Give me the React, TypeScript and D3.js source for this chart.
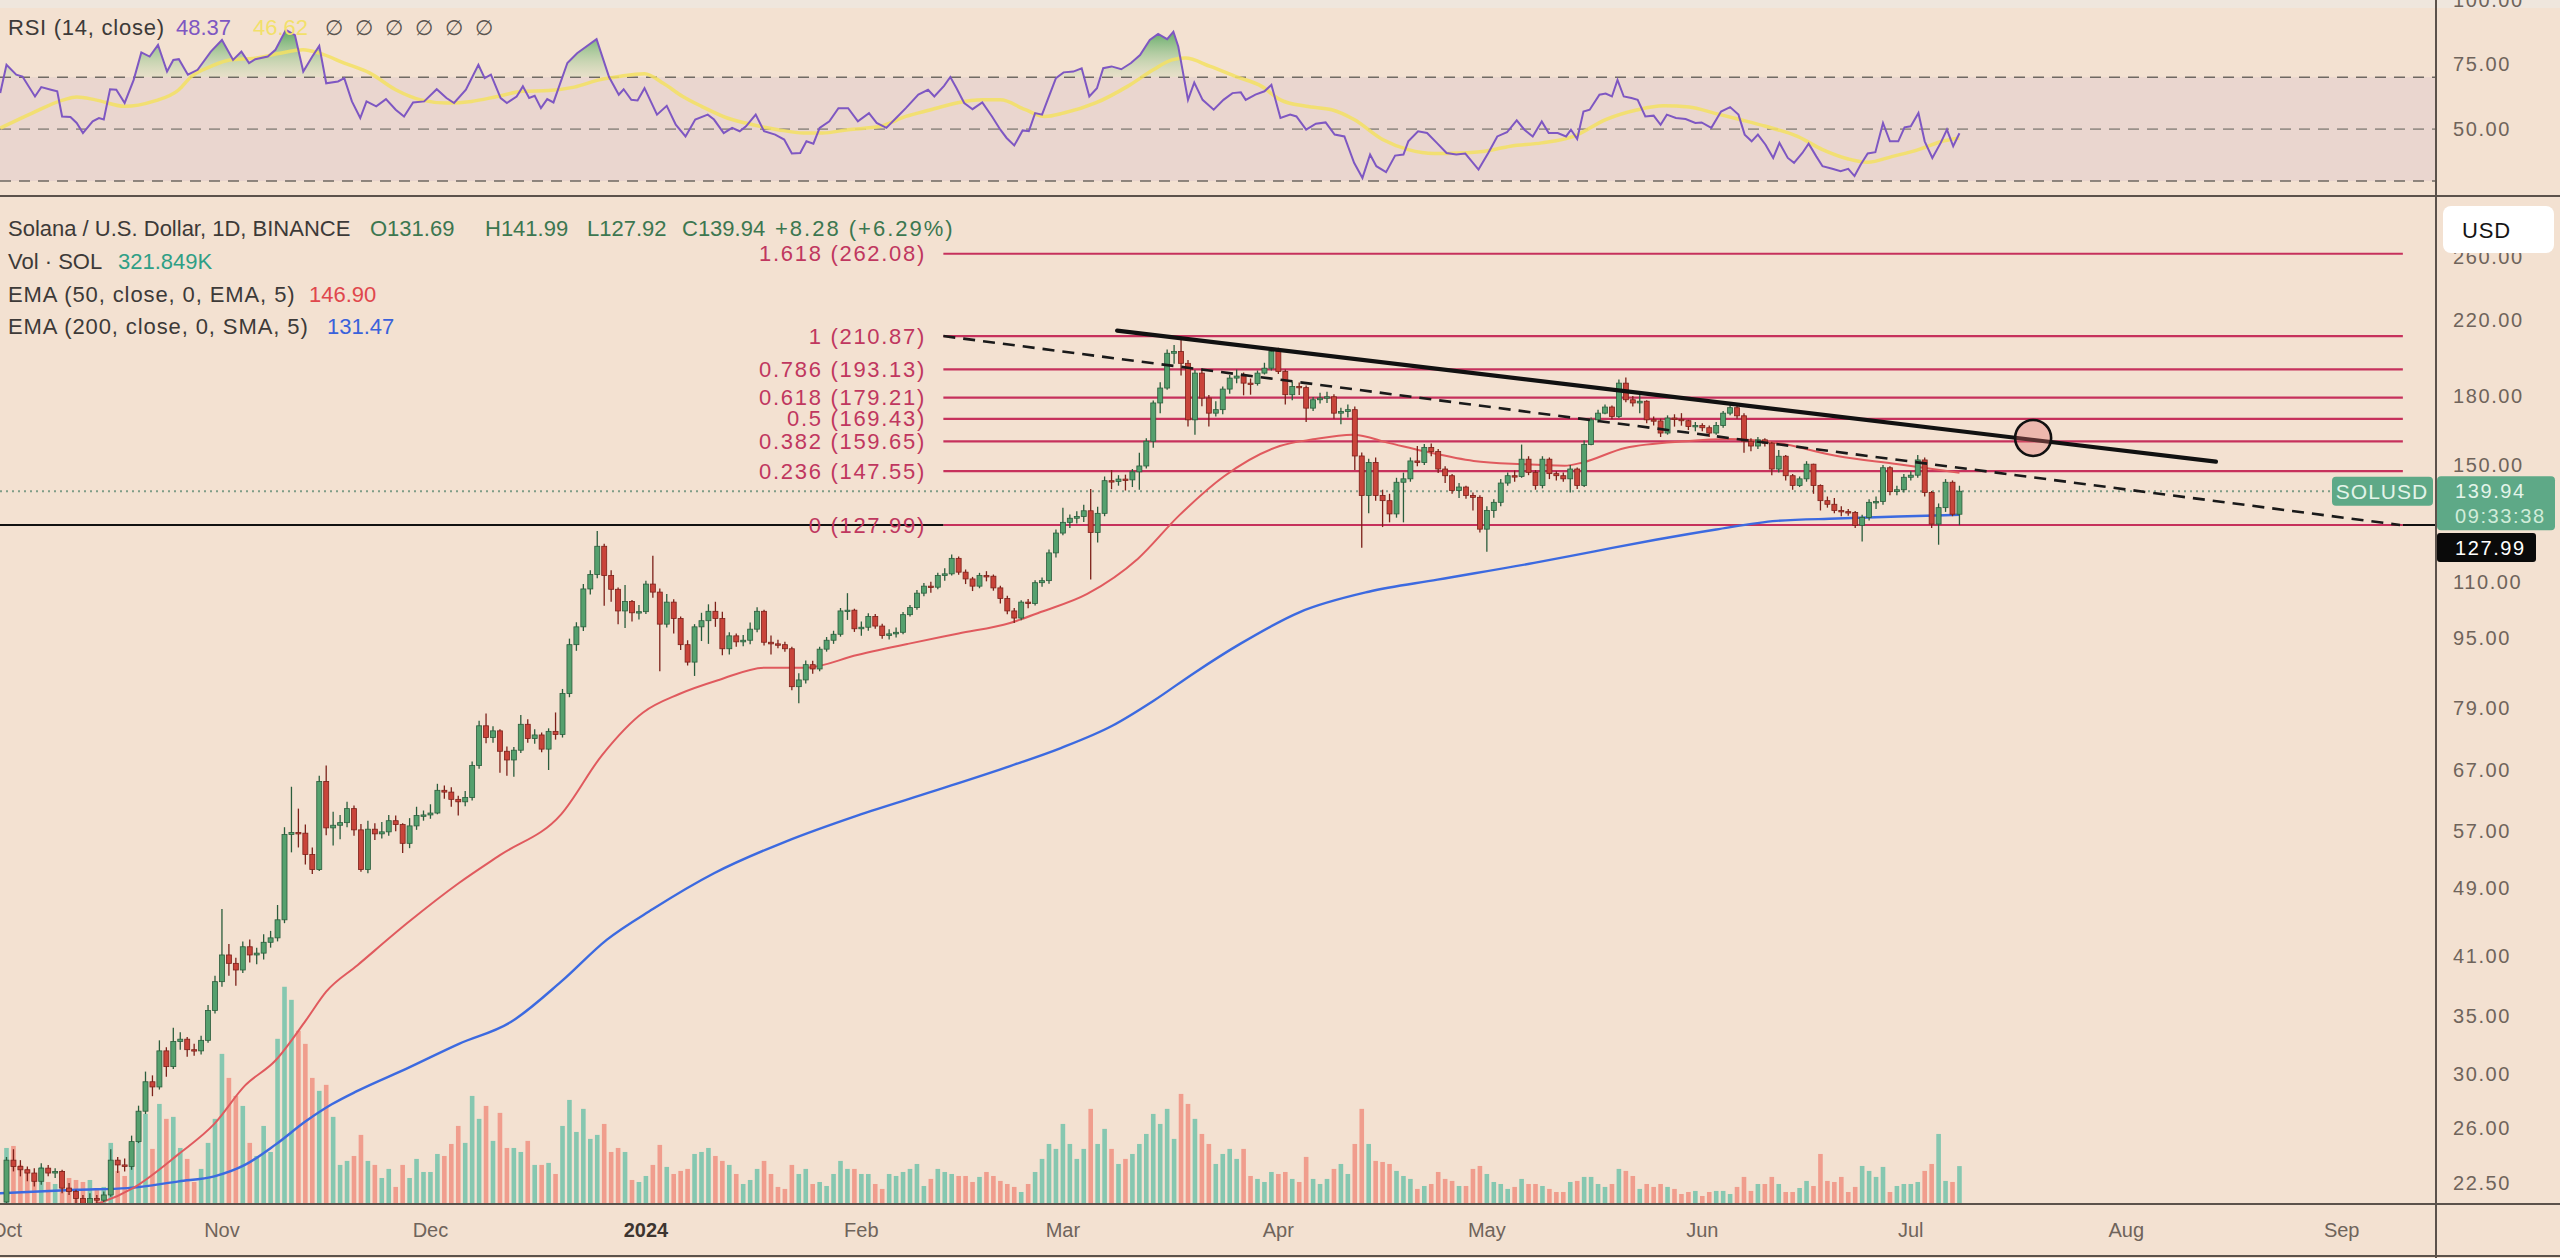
import * as d3 from 'd3';
import React from 'react';

const DAY = 86400000;
const START = Date.UTC(2023, 9, 1);
const AXIS_END = Date.UTC(2024, 8, 1);

const W = 2560;
const H = 1258;
const AXIS_X = 2436;
const RSI_BOTTOM = 196;
const PRICE_BOTTOM = 1204;
const TIME_BOTTOM = 1256;
const FONT = "'Liberation Sans', Arial, sans-serif";

// daily SOL/USD candles, 2023-10-01 .. 2024-07-08 (one line per month)
const closes = [
  23.9, 23.5, 23.3, 23.1, 22.6, 23.4, 23.1, 23.2, 22.2, 22.0, 21.6, 21.3, 21.6, 21.5, 21.8, 23.9, 23.6, 23.5, 25.1, 27.2, 29.4, 29.0, 31.9, 30.6, 32.7, 32.9, 32.0, 31.9, 32.8, 35.5, 38.3,
  41.1, 40.2, 39.5, 42.0, 41.1, 41.3, 42.5, 43.0, 45.1, 56.5, 56.8, 56.7, 53.6, 51.5, 65.0, 57.5, 57.9, 58.3, 60.5, 57.2, 51.5, 57.3, 56.6, 56.9, 58.6, 58.0, 55.2, 57.8, 59.4, 59.5,
  59.8, 63.5, 63.2, 62.0, 61.6, 62.3, 67.8, 75.3, 73.0, 74.3, 70.4, 68.8, 70.6, 75.6, 72.8, 73.5, 70.8, 74.2, 73.6, 82.0, 93.3, 97.8, 108.1, 112.3, 121.0, 112.0, 108.0, 102.0, 104.6, 101.5, 101.8,
  109.5, 107.2, 98.5, 104.4, 100.0, 93.3, 89.1, 97.8, 99.4, 101.9, 100.0, 92.3, 95.5, 94.0, 94.4, 97.2, 101.9, 93.9, 93.5, 93.3, 92.3, 83.5, 85.0, 88.5, 87.5, 92.2, 94.4, 95.9, 102.0, 102.2, 97.3,
  97.7, 100.5, 98.0, 95.6, 96.0, 96.4, 101.0, 102.9, 106.9, 108.9, 108.6, 112.0, 112.5, 117.2, 113.0, 111.0, 108.9, 112.0, 111.8, 108.4, 105.4, 102.0, 100.1, 104.4, 104.0, 109.9, 110.5, 118.9, 125.3,
  128.9, 130.3, 130.9, 132.9, 125.5, 132.0, 143.9, 143.6, 144.5, 144.2, 147.3, 149.6, 159.7, 176.7, 183.8, 201.5, 202.4, 196.2, 169.0, 191.2, 179.0, 172.0, 173.6, 183.3, 188.7, 189.7, 186.2, 186.0, 191.2, 193.7, 202.4,
  192.0, 180.6, 184.6, 184.0, 174.3, 178.2, 179.0, 179.6, 172.0, 172.8, 173.6, 153.6, 138.4, 151.0, 138.4, 136.5, 131.8, 143.3, 144.6, 151.6, 151.0, 157.1, 155.4, 148.4, 145.8, 140.2, 141.5, 138.4, 137.7, 126.6,
  133.0, 135.9, 143.0, 145.8, 145.5, 152.3, 147.1, 142.1, 152.3, 146.6, 145.8, 144.6, 148.4, 142.1, 158.3, 169.0, 172.0, 174.8, 170.5, 186.2, 178.2, 176.7, 177.5, 169.0, 168.5, 163.2, 169.8, 169.2, 168.6, 166.0, 166.5,
  165.5, 163.2, 166.5, 172.0, 174.5, 170.8, 159.7, 157.7, 160.3, 158.9, 148.4, 153.5, 145.8, 142.1, 144.6, 150.3, 142.1, 136.5, 135.2, 133.0, 132.6, 132.3, 127.9, 130.6, 135.9, 136.2, 148.9, 139.8, 140.5, 145.2,
  146.0, 152.0, 139.5, 128.3, 134.0, 143.3, 131.7, 139.94,
];

const highs = [
  24.1, 24.6, 23.9, 23.5, 23.4, 23.7, 23.6, 23.4, 23.3, 22.5, 22.1, 21.8, 21.9, 21.8, 22.0, 24.6, 24.1, 24.0, 25.5, 27.6, 30.2, 29.9, 32.8, 32.2, 33.9, 33.5, 33.1, 32.5, 33.2, 36.0, 38.9,
  46.4, 42.3, 40.8, 42.6, 42.8, 41.9, 43.4, 43.8, 46.9, 57.6, 64.1, 60.5, 58.0, 54.6, 66.0, 67.8, 60.0, 59.5, 61.6, 61.0, 58.1, 58.6, 58.2, 58.4, 59.5, 59.4, 58.2, 59.0, 60.8, 60.2,
  61.2, 64.6, 64.3, 64.0, 62.6, 63.4, 68.5, 76.3, 77.8, 75.2, 74.6, 71.3, 71.2, 77.5, 76.6, 74.6, 74.0, 74.8, 78.0, 83.0, 94.8, 99.0, 109.5, 113.6, 126.0, 121.8, 113.6, 108.5, 109.2, 105.0, 103.6,
  110.5, 118.0, 108.2, 106.7, 105.2, 100.5, 94.4, 98.5, 101.5, 103.8, 104.5, 101.8, 96.4, 96.1, 95.7, 98.9, 103.0, 102.3, 95.6, 94.5, 94.0, 92.8, 86.5, 89.5, 89.4, 92.8, 95.2, 96.8, 102.8, 106.9, 102.6,
  99.2, 101.4, 101.2, 98.6, 97.2, 97.6, 101.7, 103.6, 107.8, 109.8, 110.2, 112.8, 114.2, 118.4, 117.8, 113.8, 111.6, 112.8, 113.3, 112.3, 109.0, 106.2, 102.8, 104.9, 105.3, 110.6, 111.4, 120.0, 126.5,
  134.0, 131.6, 132.7, 135.0, 140.8, 134.3, 145.5, 148.0, 146.0, 146.2, 148.4, 154.9, 161.0, 177.8, 186.6, 203.5, 206.0, 210.5, 198.0, 192.8, 193.5, 180.5, 177.5, 184.5, 190.3, 193.0, 191.5, 188.5, 192.5, 196.5, 203.5,
  204.5, 193.0, 187.0, 186.5, 185.0, 179.5, 181.5, 182.0, 180.8, 174.5, 176.0, 175.0, 155.0, 152.5, 153.0, 140.5, 139.0, 145.0, 147.0, 153.0, 157.7, 158.5, 158.8, 156.5, 149.5, 146.5, 143.0, 142.0, 139.5, 138.5,
  134.5, 137.0, 144.5, 147.0, 147.8, 158.3, 153.5, 148.0, 153.5, 153.0, 147.5, 147.0, 150.0, 149.0, 160.0, 170.0, 173.5, 176.0, 175.5, 188.0, 189.0, 180.0, 180.5, 178.0, 170.5, 169.5, 171.0, 171.5, 172.0, 169.0, 168.0,
  167.5, 166.5, 168.0, 173.0, 176.0, 175.5, 172.0, 161.0, 161.5, 161.0, 159.5, 156.0, 154.0, 146.5, 145.5, 151.5, 150.5, 142.5, 138.0, 137.5, 134.5, 133.5, 132.8, 131.5, 137.0, 138.0, 150.0, 149.5, 142.0, 146.5,
  147.5, 154.0, 153.0, 140.0, 135.5, 144.5, 144.0, 141.99,
];

const lows = [
  21.3, 23.2, 22.9, 22.6, 22.3, 22.4, 22.9, 22.8, 21.9, 21.8, 21.3, 21.0, 21.2, 21.3, 21.4, 21.7, 23.1, 23.2, 23.3, 25.0, 27.0, 28.3, 28.8, 29.8, 30.4, 32.0, 31.4, 31.5, 31.6, 32.6, 35.2,
  37.8, 38.9, 37.9, 39.2, 40.3, 40.1, 40.6, 41.9, 42.6, 44.7, 53.9, 54.6, 52.2, 50.9, 51.3, 56.4, 54.9, 55.8, 57.6, 56.3, 51.2, 51.0, 55.7, 55.9, 56.3, 57.0, 53.8, 54.5, 57.2, 58.6,
  58.9, 59.6, 62.1, 60.8, 59.4, 60.9, 61.8, 67.2, 71.9, 72.0, 66.5, 66.0, 65.8, 70.1, 72.0, 71.8, 70.2, 67.0, 72.6, 73.0, 81.2, 91.8, 96.7, 106.5, 111.2, 103.4, 104.5, 98.5, 97.5, 99.2, 99.7,
  101.2, 105.6, 87.0, 97.6, 96.1, 92.0, 88.3, 85.9, 94.2, 93.5, 97.8, 90.7, 90.9, 92.8, 92.9, 93.4, 96.4, 93.1, 90.9, 92.4, 91.6, 82.7, 79.9, 84.2, 86.4, 87.0, 91.6, 93.5, 95.3, 99.6, 96.5,
  95.5, 96.8, 97.3, 94.8, 94.6, 95.1, 95.9, 100.5, 102.3, 106.0, 107.0, 108.0, 110.5, 112.0, 112.2, 109.5, 107.5, 108.3, 110.3, 107.6, 104.0, 101.1, 98.8, 99.5, 102.7, 103.5, 108.7, 109.6, 117.5,
  124.6, 127.0, 128.5, 129.0, 110.8, 122.2, 131.0, 140.7, 142.0, 140.2, 141.5, 140.5, 148.6, 157.0, 172.0, 183.0, 196.0, 190.0, 166.0, 162.5, 175.2, 166.0, 170.5, 171.5, 181.0, 186.2, 180.3, 180.6, 185.0, 190.5, 192.5,
  190.8, 176.0, 178.0, 180.5, 168.0, 173.0, 176.5, 176.7, 169.5, 167.0, 170.0, 148.0, 120.5, 132.0, 136.5, 127.3, 128.9, 130.5, 128.9, 143.5, 149.5, 150.0, 153.5, 146.8, 143.0, 139.0, 137.5, 137.2, 133.0, 125.5,
  119.3, 130.5, 134.5, 142.0, 143.5, 145.0, 146.0, 140.5, 141.0, 144.5, 144.0, 143.5, 139.5, 140.8, 141.5, 158.0, 167.8, 171.5, 169.3, 169.8, 177.0, 175.0, 172.0, 167.5, 166.5, 161.5, 162.5, 166.0, 166.4, 164.5, 164.0,
  164.0, 161.5, 162.5, 165.5, 171.0, 169.5, 154.9, 155.5, 156.5, 157.5, 146.0, 147.0, 144.0, 140.5, 141.5, 143.5, 139.0, 133.0, 134.0, 132.0, 131.0, 131.2, 127.0, 122.5, 129.5, 133.5, 135.0, 138.5, 138.5, 139.5,
  144.0, 145.0, 138.0, 127.0, 121.5, 132.5, 131.0, 127.92,
];

const FIRST_OPEN = 21.4;
const LAST_OPEN = 131.69;

// volume, thousands of SOL
const volumes = [
  476, 493, 332, 298, 255, 315, 187, 170, 281, 221, 204, 187, 204, 128, 145, 519, 281, 238, 408, 595, 765, 468, 850, 723, 740, 476, 383, 187, 298, 519, 723,
  1275, 1071, 918, 833, 519, 408, 663, 442, 1403, 1845, 1734, 1471, 1360, 1071, 961, 1012, 740, 332, 366, 408, 587, 366, 332, 221, 298, 145, 332, 221, 383, 272,
  272, 425, 408, 510, 663, 519, 918, 723, 833, 536, 774, 476, 476, 442, 536, 332, 332, 349, 255, 663, 884, 612, 808, 553, 587, 680, 442, 476, 442, 204, 187,
  238, 332, 502, 315, 255, 281, 298, 425, 442, 476, 408, 366, 332, 255, 170, 204, 298, 366, 255, 145, 128, 332, 255, 298, 170, 187, 153, 255, 366, 298, 298,
  255, 255, 170, 128, 255, 238, 272, 298, 340, 153, 213, 298, 272, 255, 238, 238, 187, 230, 272, 238, 196, 170, 145, 102, 170, 272, 383, 510, 468,
  680, 510, 383, 468, 808, 510, 638, 468, 340, 383, 425, 510, 595, 765, 680, 808, 553, 935, 850, 723, 595, 510, 340, 425, 468, 383, 468, 238, 213, 187, 272,
  255, 272, 213, 187, 400, 213, 170, 213, 298, 340, 255, 510, 808, 510, 366, 357, 340, 281, 238, 213, 128, 153, 170, 272, 213, 196, 153, 153, 298, 323,
  255, 187, 170, 128, 145, 213, 170, 170, 153, 128, 102, 102, 187, 196, 230, 230, 170, 145, 170, 298, 281, 238, 128, 170, 145, 170, 145, 128, 85, 102, 111,
  68, 102, 111, 111, 85, 145, 230, 111, 170, 170, 230, 170, 102, 102, 136, 196, 153, 425, 196, 187, 230, 102, 145, 323, 281, 230, 315, 102, 153, 170,
  170, 187, 281, 340, 595, 196, 187, 322,
];

// moving averages: [day since 2023-10-01, value]
const ema50: [number, number][] = [
  [0, 20.6], [7, 20.9], [13.8, 21.4], [18.2, 22.2], [24.8, 24.3], [29.9, 26.3], [34.3, 29.1], [38.7, 31.1], [43.1, 34.6], [46, 37.3],
  [50.5, 40.0], [57.8, 44.8], [65.1, 49.7], [71, 53.5], [79.8, 59.6], [85.7, 69.7], [91.6, 78.0], [96.8, 81.9], [102.5, 85.0], [109.1, 87.8],
  [115, 87.8], [122.4, 90.8], [129.7, 93.5], [137, 96.1], [144.4, 98.8], [148.8, 101.7], [155.5, 106.7], [162.8, 117.1], [168.7, 131.2], [175.2, 145.6],
  [183.2, 157.7], [188, 160.5], [193.7, 162.5], [199, 158.9], [204, 155.5], [211.1, 151.6], [218, 150.3], [224.2, 149.7], [226.8, 151.0], [232.9, 156.9],
  [241.6, 159.7], [247.7, 160.6], [254.7, 159.0], [263.4, 153.6], [272.2, 150.3], [281, 146.9],
];

const ema200: [number, number][] = [
  [-1, 21.9], [10.1, 22.1], [17.4, 22.2], [24.8, 22.6], [29.9, 22.9], [34.3, 23.6], [38.7, 24.9], [43.1, 26.5], [46.8, 27.7], [50.5, 28.7],
  [57.8, 30.5], [65.1, 32.5], [72.5, 34.4], [79.8, 38.3], [86.4, 42.8], [93, 46.4], [101.8, 51.0], [112.2, 55.5], [122.4, 59.4], [133.5, 63.4],
  [144.4, 67.7], [151.7, 71.0], [159.1, 75.3], [165, 80.4], [170.9, 86.6], [177.5, 93.5], [186.1, 101.7], [196, 107.3], [205.9, 110.8], [219.8, 115.8],
  [228.5, 119.4], [237.3, 123.1], [246, 126.5], [254.7, 129.4], [263.4, 130.2], [272.2, 130.9], [281, 131.5],
];

const rsi: [number, number][] = [
  [-0.9, 63.9], [0, 74.8], [1.4, 71.0], [2.3, 70.3], [4.1, 62.6], [5, 66.2], [6.4, 65.2], [7.3, 64.6], [8, 54.9], [9.2, 54.7],
  [10.1, 52.4], [11, 48.5], [12.4, 53.0], [13.3, 54.3], [14, 53.7], [14.9, 65.4], [15.8, 65.2], [17, 60.1], [18.3, 69.0], [19.4, 79.6],
  [20.6, 78.0], [21.8, 82.5], [23.1, 72.2], [24, 76.7], [24.8, 77.0], [26.1, 71.0], [27.5, 72.9], [29.4, 79.9], [31, 84.4], [32.6, 76.7],
  [33.8, 79.9], [34.9, 75.5], [35.8, 77.0], [37.6, 78.0], [38.7, 80.6], [40.2, 88.3], [41.5, 86.3], [42.7, 72.2], [44, 78.0], [45, 82.1],
  [46, 67.7], [47.7, 68.4], [48.6, 69.7], [49.7, 60.7], [50.9, 54.3], [51.8, 60.7], [53.2, 58.8], [54.6, 61.6], [56, 57.5], [57.2, 54.9],
  [58.5, 60.3], [60.1, 60.7], [61.9, 65.4], [63.3, 62.0], [64.4, 60.1], [66.1, 65.2], [67.9, 74.8], [68.8, 69.7], [69.7, 71.0], [71.1, 62.0],
  [72, 60.1], [73.4, 62.6], [74.3, 66.5], [75.2, 62.0], [76, 62.9], [76.9, 58.1], [77.8, 61.6], [78.7, 60.3], [80.7, 75.5], [82.1, 79.3],
  [84.9, 84.7], [86.7, 70.1], [88.1, 63.3], [88.8, 65.4], [89.9, 61.3], [90.8, 61.1], [91.8, 65.8], [93.6, 55.6], [95, 59.0], [96.3, 51.7],
  [97.7, 47.2], [99.1, 53.7], [100.9, 55.6], [101.8, 53.7], [103.2, 48.5], [104.4, 50.5], [105.5, 49.2], [106.4, 51.1], [107.8, 55.6], [109, 49.2],
  [110.6, 47.9], [111.9, 46.0], [113, 40.6], [114.2, 40.8], [115.1, 45.3], [116.1, 44.4], [117, 50.5], [118.4, 53.0], [119.7, 58.1], [121.1, 58.1],
  [122.5, 53.0], [124.1, 56.2], [125.2, 52.4], [126.6, 50.5], [128, 54.3], [129.4, 58.1], [131.2, 63.3], [132.6, 65.2], [133.5, 62.6], [134.9, 66.7],
  [135.8, 70.1], [136.7, 65.8], [137.8, 60.1], [139, 57.7], [140.4, 60.3], [141.8, 54.9], [143, 49.8], [143.9, 46.6], [145, 43.7], [146.2, 49.5],
  [147.1, 49.2], [148, 56.2], [149, 55.6], [149.8, 61.3], [151, 69.7], [152.1, 71.9], [153.5, 72.2], [154.7, 73.5], [155.8, 62.6], [156.9, 65.8],
  [157.8, 73.5], [159, 74.2], [160.4, 73.1], [161.8, 75.5], [163.1, 78.6], [164.5, 84.4], [165.7, 86.7], [167, 84.7], [167.9, 87.6], [168.6, 81.9],
  [170, 61.3], [170.9, 68.0], [172.1, 61.3], [173.7, 57.5], [175.1, 61.3], [176.4, 63.9], [177.6, 64.2], [178.3, 61.3], [179.7, 63.3], [181, 64.6],
  [182, 67.1], [183.3, 54.3], [184.7, 55.6], [185.6, 54.9], [187, 49.8], [188.4, 52.1], [189.8, 52.6], [191.1, 47.9], [192.5, 47.2], [193.9, 37.0],
  [195.1, 31.2], [196.2, 40.2], [197.1, 35.7], [198.5, 33.4], [199.8, 39.8], [201, 40.2], [201.7, 45.3], [203.1, 49.2], [204.4, 48.5], [205.8, 44.7],
  [207.2, 40.8], [208.6, 40.2], [209.9, 40.6], [211.8, 34.4], [213.2, 40.8], [214.5, 47.2], [215.9, 48.8], [217.3, 53.4], [218.4, 49.8], [219.6, 47.2],
  [220.9, 53.0], [221.9, 48.5], [223.2, 48.5], [224.4, 47.2], [225.1, 49.8], [226, 46.2], [226.9, 56.8], [227.8, 57.5], [229.2, 63.3], [230.1, 63.7],
  [231, 62.6], [231.8, 69.0], [232.7, 62.6], [233.8, 62.0], [234.7, 61.3], [235.8, 54.9], [237, 55.2], [238, 51.7], [238.9, 55.6], [240.2, 54.3],
  [241.6, 53.9], [243, 52.4], [243.9, 52.6], [245.3, 50.5], [246.7, 56.8], [248, 58.5], [249.2, 55.6], [250.1, 47.9], [251.1, 45.3], [252, 47.9],
  [253.1, 44.0], [254.2, 38.9], [255.1, 44.7], [256.3, 38.9], [257.2, 37.0], [258.4, 40.8], [259.3, 44.4], [260.4, 39.5], [261.3, 35.7], [262.7, 34.7],
  [263.9, 33.8], [265, 34.7], [265.9, 31.9], [266.8, 36.4], [267.8, 40.6], [268.9, 41.1], [270, 52.4], [271, 45.3], [272.2, 45.3], [273.1, 50.7],
  [274, 51.1], [275.1, 56.2], [276, 45.3], [277.1, 38.9], [278.3, 44.7], [279.2, 49.8], [280.1, 43.4], [281, 48.4],
];

const rsiMa: [number, number][] = [
  [-0.9, 50.4], [3.7, 56.2], [8.2, 61.3], [10.1, 62.4], [12.8, 61.3], [17, 58.8], [21.1, 60.7], [24.8, 65.2], [26.6, 70.3], [29.4, 74.2],
  [32.1, 76.7], [35.8, 77.4], [39.4, 79.3], [42.7, 80.6], [45, 79.3], [48.6, 75.5], [52.3, 71.6], [56, 65.2], [59.6, 61.3], [63.3, 60.1],
  [66.9, 60.7], [70.6, 62.6], [74.3, 64.6], [78, 64.9], [81.7, 66.2], [85.3, 69.0], [88.1, 70.3], [91.8, 71.4], [94.5, 67.7], [97.3, 62.6],
  [100, 58.8], [103.7, 54.3], [107.4, 51.7], [111, 49.8], [114.7, 48.5], [117.4, 48.5], [121.1, 49.8], [125.7, 51.1], [129.4, 54.9], [133, 57.5],
  [136.7, 60.1], [140.4, 61.3], [143, 61.3], [146.6, 57.5], [149.4, 54.9], [152.1, 56.2], [156.7, 60.1], [161.3, 66.5], [165, 72.9], [167.7, 76.7],
  [169.6, 77.4], [173.2, 74.2], [176.9, 70.3], [180.6, 66.5], [183.3, 61.3], [187, 58.8], [190.7, 57.5], [193.9, 53.7], [198, 46.0], [201.7, 42.1],
  [205.4, 40.6], [209, 40.8], [212.7, 41.5], [216.4, 43.4], [220.9, 44.7], [225.5, 47.2], [230.1, 53.7], [234.7, 57.5], [238.4, 59.0], [242.1, 58.5],
  [245.7, 56.2], [249.4, 53.7], [253.1, 51.1], [257.7, 47.2], [261.3, 42.1], [265, 38.5], [267.8, 37.2], [271.4, 39.5], [275.1, 42.1], [278.8, 45.5],
  [281, 46.6],
];

const fibRatios = ['1.618', '1', '0.786', '0.618', '0.5', '0.382', '0.236', '0'];
const fibPrices = [262.08, 210.87, 193.13, 179.21, 169.43, 159.65, 147.55, 127.99];
const FIB_FROM = 134.8; // day index where the retracement starts
const FIB_TO = 344.8;

// drawn trend lines: [day, price]
const resistance: [number, number][] = [[159.8, 213.9], [317.9, 151.3]];
const dashedTrend: [number, number][] = [[134.8, 210.87], [344.4, 128.0]];
const marker: [number, number] = [291.6, 161.1];

const priceTicks = [260, 220, 180, 150, 110, 95, 79, 67, 57, 49, 41, 35, 30, 26, 22.5];
const rsiTicks = [100, 75, 50];
const rsiLevels = [70, 50, 30];

const LAST_CLOSE = 139.94;
const BASE_LEVEL = 127.99;

const BG = '#f3e1d1';
const AXIS_TEXT = '#6f645b';
const FIB = '#c6315c';
const UP = '#55a06e';
const UP_EDGE = '#2b5d3c';
const DOWN = '#c9443a';
const DOWN_EDGE = '#7c211a';
const VOL_UP = '#86c7b0';
const VOL_DOWN = '#f09d8d';

export default function App() {
  const x = d3.scaleUtc()
    .domain([new Date(START), new Date(AXIS_END)])
    .range([6.5, 6.5 + 336 * 6.95]);
  const xd = (d: number) => x(new Date(START + d * DAY));
  const y = d3.scaleLog().domain([22.5, 220]).range([1183, 320]);
  const yv = d3.scaleLinear().domain([0, 1860]).range([PRICE_BOTTOM, 985]);
  const yr = d3.scaleLinear().domain([30, 70]).range([181, 77.3]);

  const candles = closes.map((c, i) => {
    const o = i === 0 ? FIRST_OPEN : i === closes.length - 1 ? LAST_OPEN : closes[i - 1];
    return { d: i, o, c, h: Math.max(highs[i], o, c), l: Math.min(lows[i], o, c), v: volumes[i] };
  });

  const priceLine = d3.line<[number, number]>()
    .x(p => xd(p[0])).y(p => y(p[1])).curve(d3.curveMonotoneX);
  const rsiLine = d3.line<[number, number]>().x(p => xd(p[0])).y(p => yr(p[1]));
  const maLine = d3.line<[number, number]>()
    .x(p => xd(p[0])).y(p => yr(p[1])).curve(d3.curveMonotoneX);
  const rsiArea = d3.area<[number, number]>()
    .x(p => xd(p[0])).y0(yr(70)).y1(p => yr(p[1]));

  const months = x.ticks(d3.utcMonth.every(1) as d3.TimeInterval);
  const monthFmt = d3.utcFormat('%b');

  const lastY = y(LAST_CLOSE);
  const baseY = y(BASE_LEVEL);

  return (
    <svg width={W} height={H} viewBox={`0 0 ${W} ${H}`}
      style={{ position: 'absolute', left: 0, top: 0, display: 'block', background: BG }}
      fontFamily={FONT}>
      <defs>
        <clipPath id="pricePane"><rect x={0} y={RSI_BOTTOM + 1} width={AXIS_X} height={PRICE_BOTTOM - RSI_BOTTOM - 1} /></clipPath>
        <clipPath id="rsiPane"><rect x={0} y={0} width={AXIS_X} height={RSI_BOTTOM} /></clipPath>
        <clipPath id="above70"><rect x={0} y={0} width={AXIS_X} height={yr(70)} /></clipPath>
        <linearGradient id="rsiGreen" gradientUnits="userSpaceOnUse" x1={0} y1={yr(90)} x2={0} y2={yr(70)}>
          <stop offset="0" stopColor="#3e9a4e" stopOpacity={0.95} />
          <stop offset="1" stopColor="#a8d49c" stopOpacity={0.15} />
        </linearGradient>
      </defs>

      <rect x={0} y={0} width={W} height={H} fill={BG} />
      <rect x={0} y={0} width={W} height={8} fill="#efe6dd" />

      {/* RSI pane */}
      <g clipPath="url(#rsiPane)">
        <rect x={0} y={yr(70)} width={AXIS_X} height={yr(30) - yr(70)} fill="rgba(126,87,194,0.08)" />
        {rsiLevels.map(l => (
          <line key={l} x1={0} x2={AXIS_X} y1={yr(l)} y2={yr(l)}
            stroke={l === 50 ? '#9a918a' : '#6f6862'} strokeWidth={1.6} strokeDasharray="11 8" />
        ))}
        <path d={rsiArea(rsi) ?? ''} fill="url(#rsiGreen)" clipPath="url(#above70)" />
        <path d={maLine(rsiMa) ?? ''} fill="none" stroke="#f3e162" strokeWidth={3.5} strokeOpacity={0.85} />
        <path d={rsiLine(rsi) ?? ''} fill="none" stroke="#7e57c2" strokeWidth={2} />
      </g>
      <text y={27} fontSize={22} dominantBaseline="central">
        <tspan x={8} fill="#3d3a38" letterSpacing={0.75}>RSI (14, close)</tspan>
        <tspan x={176} fill="#7e57c2">48.37</tspan>
        <tspan x={253} fill="#f2e06a">46.62</tspan>
      </text>
      {[0, 1, 2, 3, 4, 5].map(i => (
        <text key={i} x={334 + i * 30} y={27} fontSize={21} fill="#5a544f" dominantBaseline="central" textAnchor="middle">∅</text>
      ))}

      {/* price pane */}
      <g clipPath="url(#pricePane)">
        {candles.map(k => (
          <rect key={`v${k.d}`} x={xd(k.d) - 2.3} y={yv(k.v)} width={4.6} height={PRICE_BOTTOM - yv(k.v)}
            fill={k.c >= k.o ? VOL_UP : VOL_DOWN} />
        ))}
        {fibPrices.map(p => (
          <line key={p} x1={xd(FIB_FROM)} x2={xd(FIB_TO)} y1={y(p)} y2={y(p)} stroke={FIB} strokeWidth={2.2} />
        ))}
        <line x1={0} x2={xd(FIB_FROM)} y1={baseY} y2={baseY} stroke="#111" strokeWidth={2} />
        <line x1={xd(FIB_TO)} x2={AXIS_X} y1={baseY} y2={baseY} stroke="#111" strokeWidth={2} />
        <line x1={0} x2={AXIS_X} y1={lastY} y2={lastY} stroke="#7f9d88" strokeWidth={2} strokeDasharray="2 4" />
        <path d={priceLine(ema200) ?? ''} fill="none" stroke="#3c6ae0" strokeWidth={2.4} />
        <path d={priceLine(ema50) ?? ''} fill="none" stroke="#e05a5e" strokeWidth={2} />
        {candles.map(k => {
          const up = k.c >= k.o;
          const cx = xd(k.d);
          const top = y(Math.max(k.o, k.c));
          const bot = y(Math.min(k.o, k.c));
          return (
            <g key={`c${k.d}`}>
              <line x1={cx} x2={cx} y1={y(k.h)} y2={y(k.l)} stroke={up ? UP_EDGE : DOWN_EDGE} strokeWidth={1.3} />
              <rect x={cx - 2.5} y={top} width={5} height={Math.max(1.4, bot - top)}
                fill={up ? UP : DOWN} stroke={up ? UP_EDGE : DOWN_EDGE} strokeWidth={0.8} />
            </g>
          );
        })}
        <line x1={xd(dashedTrend[0][0])} y1={y(dashedTrend[0][1])} x2={xd(dashedTrend[1][0])} y2={y(dashedTrend[1][1])}
          stroke="#1a1a1a" strokeWidth={2.6} strokeDasharray="12 8" />
        <line x1={xd(resistance[0][0])} y1={y(resistance[0][1])} x2={xd(resistance[1][0])} y2={y(resistance[1][1])}
          stroke="#111" strokeWidth={4.2} strokeLinecap="round" />
        <circle cx={xd(marker[0])} cy={y(marker[1])} r={18} fill="rgba(226,110,110,0.35)" stroke="#111" strokeWidth={2.6} />
      </g>

      {fibPrices.map((p, i) => (
        <text key={`fl${p}`} x={926} y={y(p)} fontSize={22} fill="#c0375f" textAnchor="end"
          dominantBaseline="central" letterSpacing={1.7}>{`${fibRatios[i]} (${p.toFixed(2)})`}</text>
      ))}

      {/* legend */}
      <g fontSize={22} dominantBaseline="central">
        <text y={228}>
          <tspan x={8} fill="#3d3a38">Solana / U.S. Dollar, 1D, BINANCE</tspan>
          <tspan x={370} fill="#3c7750">O131.69</tspan>
          <tspan x={485} fill="#3c7750">H141.99</tspan>
          <tspan x={587} fill="#3c7750">L127.92</tspan>
          <tspan x={682} fill="#3c7750">C139.94</tspan>
          <tspan x={775} fill="#3c7750" letterSpacing={2}>+8.28 (+6.29%)</tspan>
        </text>
        <text y={261}>
          <tspan x={8} fill="#3d3a38">Vol · SOL</tspan>
          <tspan x={118} fill="#2f9f86">321.849K</tspan>
        </text>
        <text y={294}>
          <tspan x={8} fill="#3d3a38" letterSpacing={0.9}>EMA (50, close, 0, EMA, 5)</tspan>
          <tspan x={309} fill="#e0474c">146.90</tspan>
        </text>
        <text y={326}>
          <tspan x={8} fill="#3d3a38" letterSpacing={0.9}>EMA (200, close, 0, SMA, 5)</tspan>
          <tspan x={327} fill="#3a62db">131.47</tspan>
        </text>
      </g>

      <rect x={2332} y={lastY - 14.5} width={101} height={29} rx={4} fill="#5ea987" />
      <text x={2382} y={lastY} fontSize={21} fill="#e3f4e9" textAnchor="middle" dominantBaseline="central" letterSpacing={1}>SOLUSD</text>

      {/* frame */}
      <line x1={0} x2={W} y1={RSI_BOTTOM} y2={RSI_BOTTOM} stroke="#5b524b" strokeWidth={2} />
      <line x1={0} x2={W} y1={PRICE_BOTTOM} y2={PRICE_BOTTOM} stroke="#5b524b" strokeWidth={2} />
      <line x1={0} x2={W} y1={TIME_BOTTOM} y2={TIME_BOTTOM} stroke="#5b524b" strokeWidth={2} />
      <line x1={AXIS_X} x2={AXIS_X} y1={0} y2={H} stroke="#5b524b" strokeWidth={2} />

      {/* right axis */}
      <g fontSize={20} fill={AXIS_TEXT} dominantBaseline="central" letterSpacing={1.6}>
        {rsiTicks.map(t => <text key={`r${t}`} x={2453} y={yr(t)}>{t.toFixed(2)}</text>)}
        {priceTicks.map(t => <text key={`p${t}`} x={2453} y={y(t)}>{t.toFixed(2)}</text>)}
      </g>
      <rect x={2443} y={206} width={111} height={47} rx={8} fill="#ffffff" />
      <text x={2462} y={230} fontSize={22} fill="#151515" dominantBaseline="central" letterSpacing={0.8}>USD</text>

      <rect x={AXIS_X + 1} y={lastY - 15} width={118} height={54} rx={4} fill="#5ea987" />
      <text x={2455} y={lastY} fontSize={20} fill="#e3f4e9" dominantBaseline="central" letterSpacing={1.6}>{LAST_CLOSE.toFixed(2)}</text>
      <text x={2455} y={lastY + 25} fontSize={20} fill="#d0ecd9" dominantBaseline="central" letterSpacing={1.6}>09:33:38</text>
      <rect x={AXIS_X + 1} y={533} width={99} height={29} rx={3} fill="#0a0a0a" />
      <text x={2455} y={547.5} fontSize={20} fill="#ffffff" dominantBaseline="central" letterSpacing={1.6}>{BASE_LEVEL.toFixed(2)}</text>

      {/* time axis */}
      <g fontSize={20} dominantBaseline="central" textAnchor="middle">
        {months.map(m => {
          const jan = m.getUTCMonth() === 0;
          return (
            <text key={m.getTime()} x={x(m)} y={1230} fill={jan ? '#3d3530' : AXIS_TEXT}
              fontWeight={jan ? 700 : 400}>{jan ? String(m.getUTCFullYear()) : monthFmt(m)}</text>
          );
        })}
      </g>
    </svg>
  );
}
